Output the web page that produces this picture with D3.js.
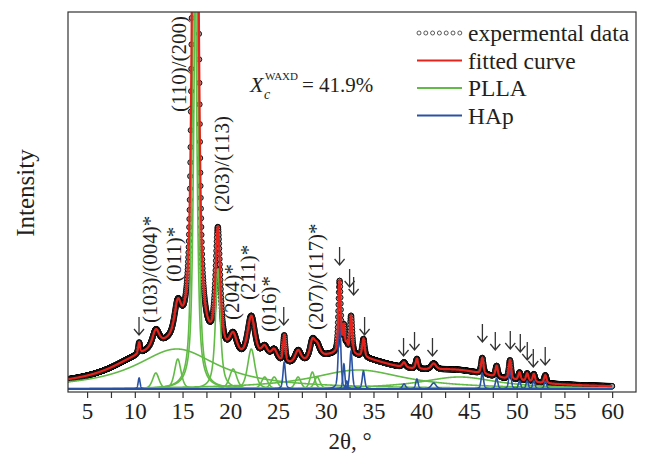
<!DOCTYPE html>
<html>
<head>
<meta charset="utf-8">
<script src="https://cdn.jsdelivr.net/npm/d3@7"></script>
<style>
  body { margin: 0; background: #fff; }
  text { font-family: "Liberation Serif", "Times New Roman", serif; fill: #231f20; }
</style>
</head>
<body>
<script>
// fitted PLLA components: [2theta, height, hwhm, lorentz fraction]
var pllaPeaks = [
  [14.4, 40, 5.3, 1], [33.4, 19, 6, 1], [44.0, 12, 5, 1],
  [12.2, 16, 0.4, 0.5], [14.5, 30, 0.4, 0.5],
  [16.25, 480, 0.27, 0.7], [16.42, 480, 0.27, 0.7],
  [18.7, 120, 0.3, 0.8], [20.3, 20, 0.45, 0.5], [22.2, 40, 0.45, 0.5],
  [23.6, 12, 0.4, 0.5], [24.6, 12, 0.4, 0.5], [27.1, 12, 0.35, 0.5],
  [28.6, 17, 0.3, 0.5], [29.1, 12, 0.35, 0.5]
];
// fitted HAp components: [2theta, height, hwhm]
var hapPeaks = [
  [10.45, 11, 0.12], [25.65, 27, 0.15], [31.45, 72, 0.15], [31.9, 25, 0.12],
  [32.2, 8, 0.12], [32.65, 38, 0.15], [33.95, 18, 0.15], [38.2, 5, 0.2],
  [39.55, 10, 0.15], [41.3, 6, 0.3], [46.4, 16, 0.15], [47.9, 11, 0.15],
  [49.3, 19, 0.15], [50.3, 8, 0.15], [51.1, 8, 0.15], [51.8, 8, 0.15],
  [53.0, 8, 0.15]
];
// background terms of the fit (not drawn): [2theta, height, hwhm]
var background = [[9.5, 6, 3], [30.5, 12, 4], [22.5, 10, 2.5]];

var xTicks = [5, 7.5, 10, 12.5, 15, 17.5, 20, 22.5, 25, 27.5, 30, 32.5, 35, 37.5, 40, 42.5, 45, 47.5, 50, 52.5, 55, 57.5, 60];
var scanRange = [3, 60];

var labels = [
  ["(110)/(200)", 14.62, 277], ["(203)/(113)", 19.12, 177],
  ["(103)/(004)*", 11.59, 66], ["(011)*", 14.1, 107],
  ["(204)*", 20.16, 69], ["(211)*", 21.83, 89],
  ["(016)*", 24.03, 57], ["(207)/(117)*", 28.94, 59]
];
// arrows: [2theta, intensity at tip]
var arrows = [
  [10.44, 54], [25.6, 64], [31.45, 124], [32.5, 102], [32.92, 94], [34.07, 54],
  [38.15, 33], [39.3, 39], [41.18, 33], [46.41, 47], [47.76, 39], [49.33, 40],
  [50.38, 37], [51.11, 29], [51.74, 22], [52.99, 24]
];
var legendItems = ["expermental data", "fitted curve", "PLLA", "HAp"];

var W = 645, H = 455;
var red = "#e5231d", green = "#62bb46", blue = "#2a52a3";
var serif = "'Liberation Serif', 'Times New Roman', serif";

var svg = d3.select("body").append("svg").attr("width", W).attr("height", H);

var x = d3.scaleLinear().domain([3, 62.5]).range([68, 636]);
var y = d3.scaleLinear().domain([-3, 377]).range([392, 12]);

function pv(t, p) {
  var u = (t - p[0]) / p[2];
  var eta = p.length > 3 ? p[3] : 0.5;
  return p[1] * (eta / (1 + u * u) + (1 - eta) * Math.exp(-Math.LN2 * u * u));
}
function lor(t, p) {
  var u = (t - p[0]) / p[2];
  return p[1] / (1 + u * u);
}
function fitted(t) {
  var s = 0;
  pllaPeaks.forEach(function (p) { s += pv(t, p); });
  hapPeaks.forEach(function (p) { s += pv(t, p); });
  background.forEach(function (p) { s += lor(t, p); });
  return s;
}

var grid = d3.range(scanRange[0], scanRange[1] + 0.0001, 0.01);
var steps = d3.range(scanRange[0], scanRange[1] + 0.0001, 0.02);

svg.append("clipPath").attr("id", "plot")
  .append("rect").attr("x", 68).attr("y", 12).attr("width", 568).attr("height", 380);

var plot = svg.append("g").attr("clip-path", "url(#plot)");

var line = d3.line().x(function (d) { return x(d[0]); }).y(function (d) { return y(d[1]); });

// experimental points
plot.selectAll(".pt").data(steps).enter().append("circle")
  .attr("class", "pt")
  .attr("cx", function (t) { return x(t); })
  .attr("cy", function (t) { return y(fitted(t)); })
  .attr("r", 2.6)
  .attr("fill", "#a0a0a0")
  .attr("stroke", "#000")
  .attr("stroke-width", 0.9);

// components
pllaPeaks.forEach(function (p) {
  plot.append("path")
    .datum(grid.map(function (t) { return [t, pv(t, p)]; }))
    .attr("d", line).attr("fill", "none")
    .attr("stroke", green).attr("stroke-width", 1.6);
});
hapPeaks.forEach(function (p) {
  plot.append("path")
    .datum(grid.map(function (t) { return [t, pv(t, p)]; }))
    .attr("d", line).attr("fill", "none")
    .attr("stroke", blue).attr("stroke-width", 1.6);
});

plot.append("path")
  .datum(grid.map(function (t) { return [t, fitted(t)]; }))
  .attr("d", line).attr("fill", "none")
  .attr("stroke", red).attr("stroke-width", 2.2);

// frame
svg.append("rect").attr("x", 68).attr("y", 12).attr("width", 568).attr("height", 380)
  .attr("fill", "none").attr("stroke", "#333").attr("stroke-width", 1.2);

var xAxis = svg.append("g").attr("transform", "translate(0,392)")
  .call(d3.axisBottom(x).tickValues(xTicks).tickSize(6).tickPadding(5)
    .tickFormat(function (d) { return d % 5 === 0 ? d : ""; }));
xAxis.select(".domain").remove();
xAxis.selectAll("line").attr("stroke", "#333").attr("stroke-width", 1.2);
xAxis.selectAll("text").style("font-size", "23px").style("font-family", serif).style("fill", "#231f20");

svg.append("text").attr("x", 350).attr("y", 449).attr("text-anchor", "middle")
  .style("font-size", "23px").text("2θ, °");
svg.append("text").attr("transform", "translate(25,193) rotate(-90)")
  .attr("text-anchor", "middle").attr("dy", "0.35em")
  .style("font-size", "25px").text("Intensity");

// peak labels
svg.selectAll(".lbl").data(labels).enter().append("text")
  .attr("class", "lbl")
  .attr("transform", function (d) { return "translate(" + x(d[1]) + "," + y(d[2]) + ") rotate(-90)"; })
  .attr("dy", "0.35em")
  .style("font-size", "21px")
  .text(function (d) { return d[0]; });

// arrows
var ag = svg.selectAll(".arr").data(arrows).enter().append("g")
  .attr("class", "arr")
  .attr("transform", function (d) { return "translate(" + x(d[0]) + "," + y(d[1]) + ")"; });
ag.append("path")
  .attr("d", "M0,-18V0M-5,-6L0,0L5,-6")
  .attr("fill", "none").attr("stroke", "#333").attr("stroke-width", 1.3);

// crystallinity note
var note = svg.append("g").attr("transform", "translate(250,92)");
note.append("text").style("font-size", "22px").style("font-style", "italic").text("X");
note.append("text").attr("x", 14).attr("y", 7).style("font-size", "14px").style("font-style", "italic").text("c");
note.append("text").attr("x", 15).attr("y", -12).style("font-size", "11px").text("WAXD");
note.append("text").attr("x", 52).style("font-size", "21px").text("= 41.9%");

// legend
var lg = svg.append("g");
var rows = lg.selectAll(".row").data(legendItems).enter().append("g")
  .attr("transform", function (d, i) { return "translate(417," + (33 + i * 27.5) + ")"; });
rows.append("text").attr("x", 51).attr("dy", "0.35em").style("font-size", "23.5px")
  .text(function (d) { return d; });
rows.filter(function (d, i) { return i > 0; }).append("line")
  .attr("x1", 0).attr("x2", 45)
  .attr("stroke", function (d, i) { return [red, green, blue][i]; })
  .attr("stroke-width", 2);
rows.filter(function (d, i) { return i === 0; }).selectAll("circle")
  .data(d3.range(7)).enter().append("circle")
  .attr("cx", function (k) { return 2 + k * 6.8; }).attr("cy", 0).attr("r", 2)
  .attr("fill", "#fff").attr("stroke", "#333").attr("stroke-width", 0.8);
</script>
</body>
</html>
